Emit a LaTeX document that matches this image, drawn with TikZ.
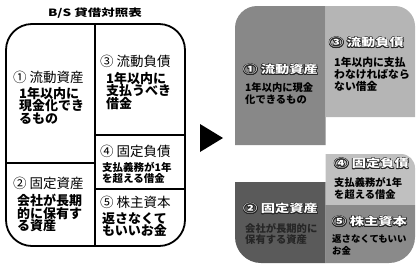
\documentclass[tikz,border=0pt]{standalone}
\usepackage{fontspec}
\setmainfont{Noto Sans CJK JP}
\newfontfamily\jp{Noto Sans CJK JP}
\usepackage{contour}
\contourlength{0.6pt}
\definecolor{cA}{HTML}{888888}
\definecolor{cB}{HTML}{B5B5B5}
\definecolor{cC}{HTML}{5A5A5A}
\definecolor{cD}{HTML}{C0C0C0}
\definecolor{cE}{HTML}{8A8A8A}
\tikzset{
  frame/.style={draw=black,line width=1.8pt},
  lhead/.style={anchor=west,inner sep=0pt,font=\jp\fontsize{13.5}{14}\selectfont},
  lbody/.style={anchor=north west,inner sep=0pt,align=left,font=\jp\bfseries\fontsize{13}{12.5}\selectfont},
  lsmall/.style={anchor=north west,inner sep=0pt,align=left,font=\jp\bfseries\fontsize{10.5}{10}\selectfont},
  rhead/.style={anchor=west,inner sep=0pt,text=white,font=\jp\bfseries\fontsize{11}{12}\selectfont},
  rbody/.style={anchor=north west,inner sep=0pt,align=left,font=\jp\bfseries\fontsize{10.3}{12}\selectfont},
}
\newcommand{\rh}[1]{\contour{black!85}{\scalebox{1.3}[1]{#1}}}
\begin{document}
\begin{tikzpicture}[x=1pt,y=-1pt]
\useasboundingbox (0,0) rectangle (419,271);
% ---------- left panel ----------
\node[inner sep=0pt,font=\jp\bfseries\fontsize{10}{11}\selectfont] (title) at (95,13.5) {\scalebox{1.35}[1]{B/S 貸借対照表}};
\draw[frame,rounded corners=26pt] (6,24) rectangle (185,246);
\draw[frame] (95,24) -- (95,246);
\draw[frame] (6,163) -- (95,163);
\draw[frame] (95,135) -- (185,135);
\draw[frame] (95,189) -- (185,189);

\node[lhead] (h1) at (13,77) {① 流動資産};
\node[lbody] (b1) at (19,87) {1年以内に\\現金化でき\\るもの};
\node[lhead] (h3) at (100,61) {③ 流動負債};
\node[lbody] (b3) at (106,72) {1年以内に\\支払うべき\\借金};
\node[lhead] (h4) at (100,151) {④ 固定負債};
\node[lsmall] (b4) at (102,162.5) {支払義務が1年\\を超える借金};
\node[lhead] (h2) at (13,183) {② 固定資産};
\node[lbody] (b2) at (17,194) {会社が長期\\的に保有す\\る資産};
\node[lhead] (h5) at (100,202) {⑤ 株主資本};
\node[lbody] (b5) at (102,212) {返さなくて\\もいいお金};

% ---------- arrow ----------
\fill[black] (200,124) -- (223,138) -- (200,152) -- cycle;

% ---------- right panel ----------
\fill[cA] (235,145) [rounded corners=22pt] -- (235,6) [sharp corners] -- (325.5,6) -- (325.5,145) -- cycle;
\fill[cB] (325.5,6) [rounded corners=20pt] -- (415,6) [sharp corners] -- (415,117) -- (325.5,117) -- cycle;
\fill[cC] (235,182) -- (325.5,182) -- (325.5,263) [rounded corners=26pt] -- (235,263) [sharp corners] -- cycle;
\fill[cD] (325.5,154) [rounded corners=14pt] -- (415,154) [sharp corners] -- (415,205) -- (325.5,205) -- cycle;
\fill[cE] (325.5,205) -- (415,205) [rounded corners=26pt] -- (415,263) [sharp corners] -- (325.5,263) -- cycle;

\node[rhead] (r1) at (243,70) {\rh{① 流動資産}};
\node[rbody] (s1) at (245,82.5) {1年以内に現金\\化できるもの};
\node[rhead] (r3) at (329,43) {\rh{③ 流動負債}};
\node[rbody,font=\jp\bfseries\fontsize{10.8}{12}\selectfont] (s3) at (334,57.5) {1年以内に支払\\わなければなら\\ない借金};
\node[rhead] (r4) at (334,164) {\rh{④ 固定負債}};
\node[rbody] (s4) at (334,177.5) {支払義務が1年\\を超える借金};
\node[rhead] (r2) at (243,209) {\rh{② 固定資産}};
\node[rbody,font=\jp\bfseries\fontsize{10.3}{10.8}\selectfont,text=black!85] (s2) at (245,223.5) {会社が長期的に\\保有する資産};
\node[rhead] (r5) at (332,222) {\rh{⑤ 株主資本}};
\node[rbody,font=\jp\bfseries\fontsize{9.4}{12}\selectfont] (s5) at (332,234) {返さなくてもいい\\お金};
\end{tikzpicture}
\end{document}
